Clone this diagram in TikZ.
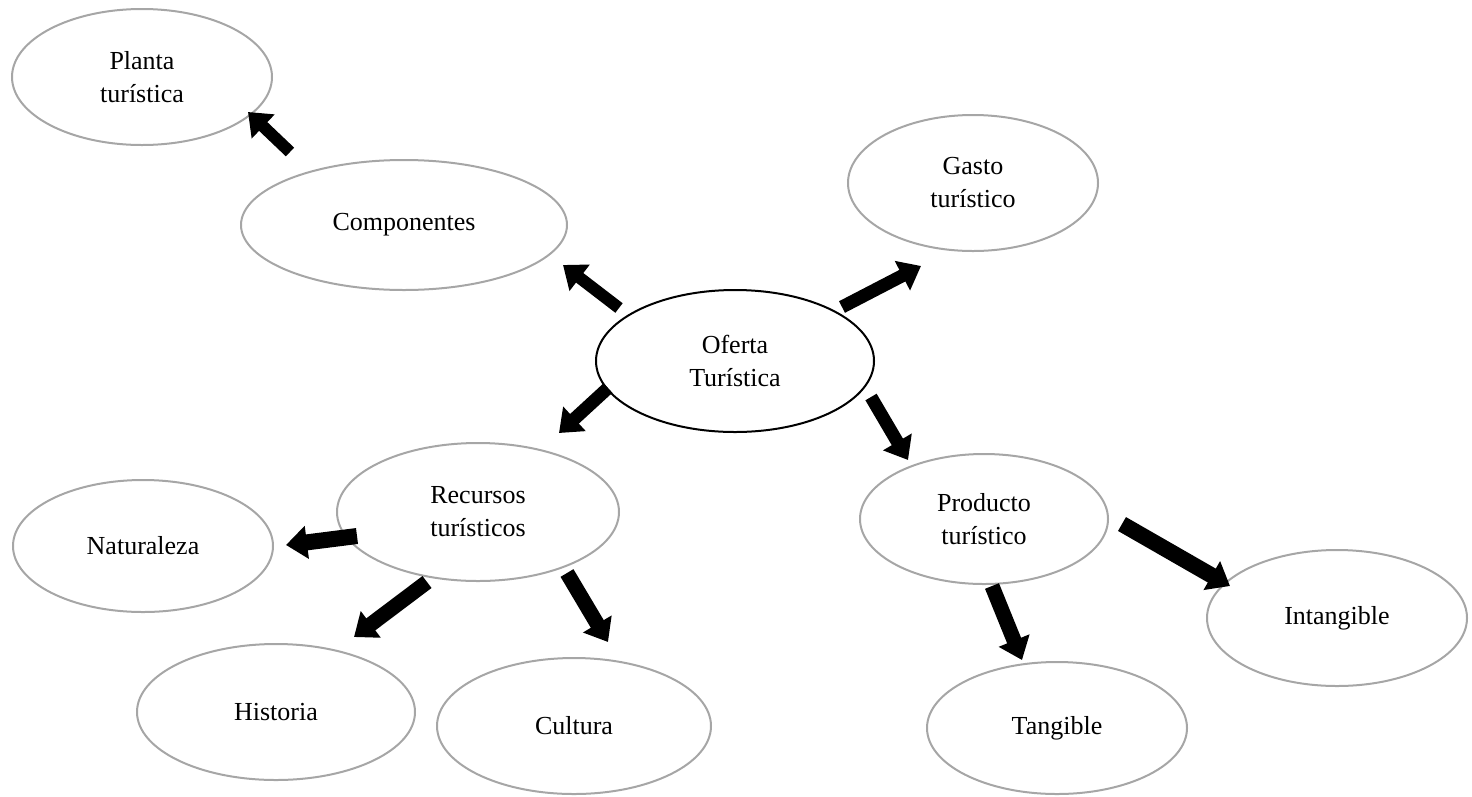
\documentclass[tikz,border=0pt]{standalone}
\usepackage{fontspec}
\setmainfont{Liberation Serif}
\usetikzlibrary{shapes.geometric,arrows.meta}
\definecolor{ringgray}{RGB}{166,166,166}
\tikzset{
  bub/.style={ellipse, draw=ringgray, line width=2pt, inner sep=0pt, align=center,
    font=\fontsize{26}{33}\selectfont},
  mainbub/.style={bub, draw=black},
  blockarrow/.style={line width=#1, -{Triangle[width=32pt,length=21pt]}},
  blockarrow/.default=13pt
}
\begin{document}
\begin{tikzpicture}[x=1pt,y=-1pt]
\useasboundingbox (0,0) rectangle (1472,796);
\node[bub, minimum width=260pt, minimum height=136pt] (planta) at (142,77) {Planta\\turística};
\node[bub, minimum width=326pt, minimum height=130pt] (comp) at (404,225) {Componentes};
\node[bub, minimum width=250pt, minimum height=136pt] (gasto) at (973,183) {Gasto\\turístico};
\node[mainbub, minimum width=278pt, minimum height=142pt] (oferta) at (735,361) {Oferta\\Turística};
\node[bub, minimum width=282pt, minimum height=138pt] (recursos) at (478,512) {Recursos\\turísticos};
\node[bub, minimum width=248pt, minimum height=130pt] (producto) at (984,519) {Producto\\turístico};
\node[bub, minimum width=260pt, minimum height=132pt] (natur) at (143,546) {Naturaleza};
\node[bub, minimum width=278pt, minimum height=136pt] (hist) at (276,712) {Historia};
\node[bub, minimum width=274pt, minimum height=136pt] (cult) at (574,726) {Cultura};
\node[bub, minimum width=260pt, minimum height=132pt] (tang) at (1057,728) {Tangible};
\node[bub, minimum width=260pt, minimum height=136pt] (intang) at (1337,618) {Intangible};

\coordinate (a1s) at (290,152); \coordinate (a1e) at (248,112);
\coordinate (a2s) at (619,308); \coordinate (a2e) at (563,265);
\coordinate (a3s) at (842,307); \coordinate (a3e) at (921,266);
\coordinate (a4s) at (608,388); \coordinate (a4e) at (559,433);
\coordinate (a5s) at (871,397); \coordinate (a5e) at (908,460);
\coordinate (a6s) at (357,536); \coordinate (a6e) at (286,545);
\coordinate (a7s) at (427,582); \coordinate (a7e) at (354,637);
\coordinate (a8s) at (567,573); \coordinate (a8e) at (608,642);
\coordinate (a9s) at (992,586); \coordinate (a9e) at (1022,660);
\coordinate (a10s) at (1122,524); \coordinate (a10e) at (1230,586);

\draw[blockarrow=12pt] (a1s) -- (a1e);
\draw[blockarrow=12pt] (a2s) -- (a2e);
\draw[blockarrow=13pt] (a3s) -- (a3e);
\draw[blockarrow=13pt] (a4s) -- (a4e);
\draw[blockarrow=13pt] (a5s) -- (a5e);
\draw[blockarrow=16pt] (a6s) -- (a6e);
\draw[blockarrow=15pt] (a7s) -- (a7e);
\draw[blockarrow=15pt] (a8s) -- (a8e);
\draw[blockarrow=15pt] (a9s) -- (a9e);
\draw[blockarrow=16pt] (a10s) -- (a10e);
\end{tikzpicture}
\end{document}
